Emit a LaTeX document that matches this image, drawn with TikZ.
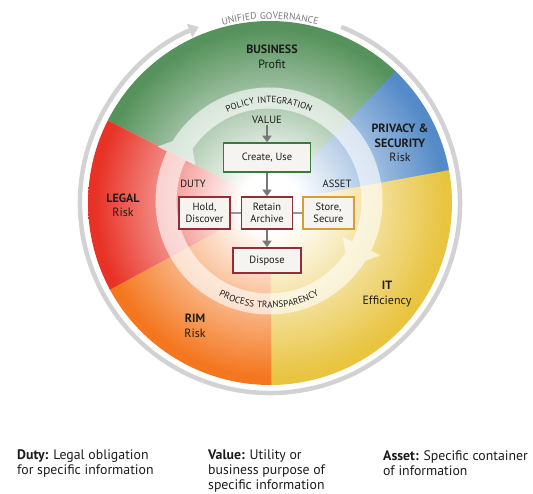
\documentclass[tikz,border=0pt]{standalone}
\usepackage{fontspec}
\setmainfont{PT Sans}
\newfontfamily\arcfont{PT Sans}[LetterSpace=8]
\usetikzlibrary{arrows.meta,decorations.text}

\definecolor{cgreen}{RGB}{86,146,92}
\definecolor{cblue}{RGB}{84,138,200}
\definecolor{cyellow}{RGB}{232,196,64}
\definecolor{corange}{RGB}{244,118,30}
\definecolor{cred}{RGB}{232,50,38}
\definecolor{ringgrey}{RGB}{210,210,210}
\definecolor{arcgrey}{RGB}{120,120,120}
\definecolor{txtdark}{RGB}{28,28,28}
\definecolor{boxfill}{RGB}{245,244,240}
\definecolor{bgreen}{RGB}{58,122,60}
\definecolor{bred}{RGB}{150,44,54}
\definecolor{bgold}{RGB}{214,158,52}
\definecolor{arrgrey}{RGB}{120,120,120}
\definecolor{linkgrey}{RGB}{150,150,150}

% radial fades: white centre, full colour at the rim
\pgfdeclareradialshading{shgreen}{\pgfpointorigin}{color(0bp)=(white);color(4bp)=(white);color(24bp)=(cgreen);color(50bp)=(cgreen)}
\pgfdeclareradialshading{shblue}{\pgfpointorigin}{color(0bp)=(white);color(4bp)=(white);color(24bp)=(cblue);color(50bp)=(cblue)}
\pgfdeclareradialshading{shyellow}{\pgfpointorigin}{color(0bp)=(white);color(4bp)=(white);color(24bp)=(cyellow);color(50bp)=(cyellow)}
\pgfdeclareradialshading{shorange}{\pgfpointorigin}{color(0bp)=(white);color(4bp)=(white);color(24bp)=(corange);color(50bp)=(corange)}
\pgfdeclareradialshading{shred}{\pgfpointorigin}{color(0bp)=(white);color(4bp)=(white);color(24bp)=(cred);color(50bp)=(cred)}

\begin{document}
\begin{tikzpicture}[x=1pt,y=1pt,
  box/.style={draw, line width=1.6pt, fill=boxfill, align=center, inner sep=0pt,
    font=\fontsize{10.5}{11.5}\selectfont, text=txtdark},
  lbl/.style={font=\fontsize{10.5}{11}\selectfont, text=txtdark, inner sep=1.5pt},
  flow/.style={draw=arrgrey, line width=2.4pt, -{Triangle[width=9pt,length=6.5pt]}},
  link/.style={draw=linkgrey, line width=1.8pt},
  sectorlabel/.style={font=\fontsize{12}{14.5}\selectfont, align=center, text=txtdark},
  note/.style={anchor=north west, inner sep=0pt, align=left,
    font=\fontsize{13.8}{15}\selectfont, text=txtdark}]
\useasboundingbox (0,0) rectangle (533,494);
\coordinate (C) at (270,291);
\coordinate (Cr) at (269,293);

% coloured wedges
\foreach \sh/\a/\b in {shgreen/46/153, shblue/10/46.4, shyellow/-90/10.4, shorange/-152/-89.6, shred/153/208.4} {
  \begin{scope}
    \clip (C) -- ([shift={(C)}]\a:182) arc[start angle=\a, end angle=\b, radius=182] -- cycle;
    \shade[shading=\sh] (C) circle[radius=182];
  \end{scope}
}

% outer governance arrow
\draw[line width=4.5pt, color=ringgrey, -{Triangle[width=14pt,length=10pt]}]
  ([shift={(C)}]68:190) arc[start angle=68, end angle=-248, radius=190];
\path[decorate, decoration={text along path, text align=center,
    text={|\fontsize{9.6}{11}\arcfont\color{arcgrey}|UNIFIED GOVERNANCE}}]
  ([shift={(C)}]122:184) arc[start angle=122, end angle=58, radius=184];

% inner cycle band with two arrowheads
\begin{scope}[transparency group, opacity=0.62]
  \draw[white, line width=21pt] (Cr) circle[radius=103];
  \fill[white] ([shift={(Cr)}]-40:103) -- ([shift={(Cr)}]-26:124) -- ([shift={(Cr)}]-26:82) -- cycle;
  \fill[white] ([shift={(Cr)}]140:103) -- ([shift={(Cr)}]154:124) -- ([shift={(Cr)}]154:82) -- cycle;
\end{scope}
\path[decorate, decoration={text along path, text align=center,
    text={|\fontsize{9}{10}\arcfont\color{txtdark}|POLICY INTEGRATION}}]
  ([shift={(Cr)}]140:98) arc[start angle=140, end angle=40, radius=98];
\path[decorate, decoration={text along path, text align=center,
    text={|\fontsize{9.2}{10}\arcfont\color{txtdark}|PROCESS TRANSPARENCY}}]
  ([shift={(Cr)}]-145:107) arc[start angle=-145, end angle=-35, radius=107];

% sector captions
\node[sectorlabel] (business) at (272,437) {\textbf{BUSINESS}\\Profit};
\node[sectorlabel] (privacy) at (400,351) {\textbf{PRIVACY \&}\\\textbf{SECURITY}\\Risk};
\node[sectorlabel] (legal) at (123,288.5) {\textbf{LEGAL}\\Risk};
\node[sectorlabel] (it) at (387,200) {\textbf{IT}\\Efficiency};
\node[sectorlabel] (rim) at (195,168) {\textbf{RIM}\\Risk};

% lifecycle boxes
\node[box, draw=bgreen, minimum width=87pt, minimum height=29pt] (create) at (267,336.5) {Create, Use};
\node[box, draw=bred, minimum width=51pt, minimum height=32pt] (retain) at (267,281) {Retain\\Archive};
\node[box, draw=bred, minimum width=51pt, minimum height=32pt] (hold) at (204.5,281) {Hold,\\Discover};
\node[box, draw=bgold, minimum width=51pt, minimum height=32pt] (store) at (328.5,281) {Store,\\Secure};
\node[box, draw=bred, minimum width=68pt, minimum height=25pt] (dispose) at (267,233.5) {Dispose};
\node[lbl] (value) at (267,374) {VALUE};
\node[lbl] (duty) at (193,310) {DUTY};
\node[lbl] (asset) at (337,310) {ASSET};

\draw[flow] (value) -- (create);
\draw[flow] (create) -- (retain);
\draw[flow] (retain) -- (dispose);
\draw[link] (hold) -- (retain);
\draw[link] (retain) -- (store);

% definitions
\node[note] (dutynote) at (17,44) {\textbf{Duty:} Legal obligation\\for specific information};
\node[note] (valuenote) at (208,44) {\textbf{Value:} Utility or\\business purpose of\\specific information};
\node[note] (assetnote) at (383,44) {\textbf{Asset:} Specific container\\of information};
\end{tikzpicture}
\end{document}
